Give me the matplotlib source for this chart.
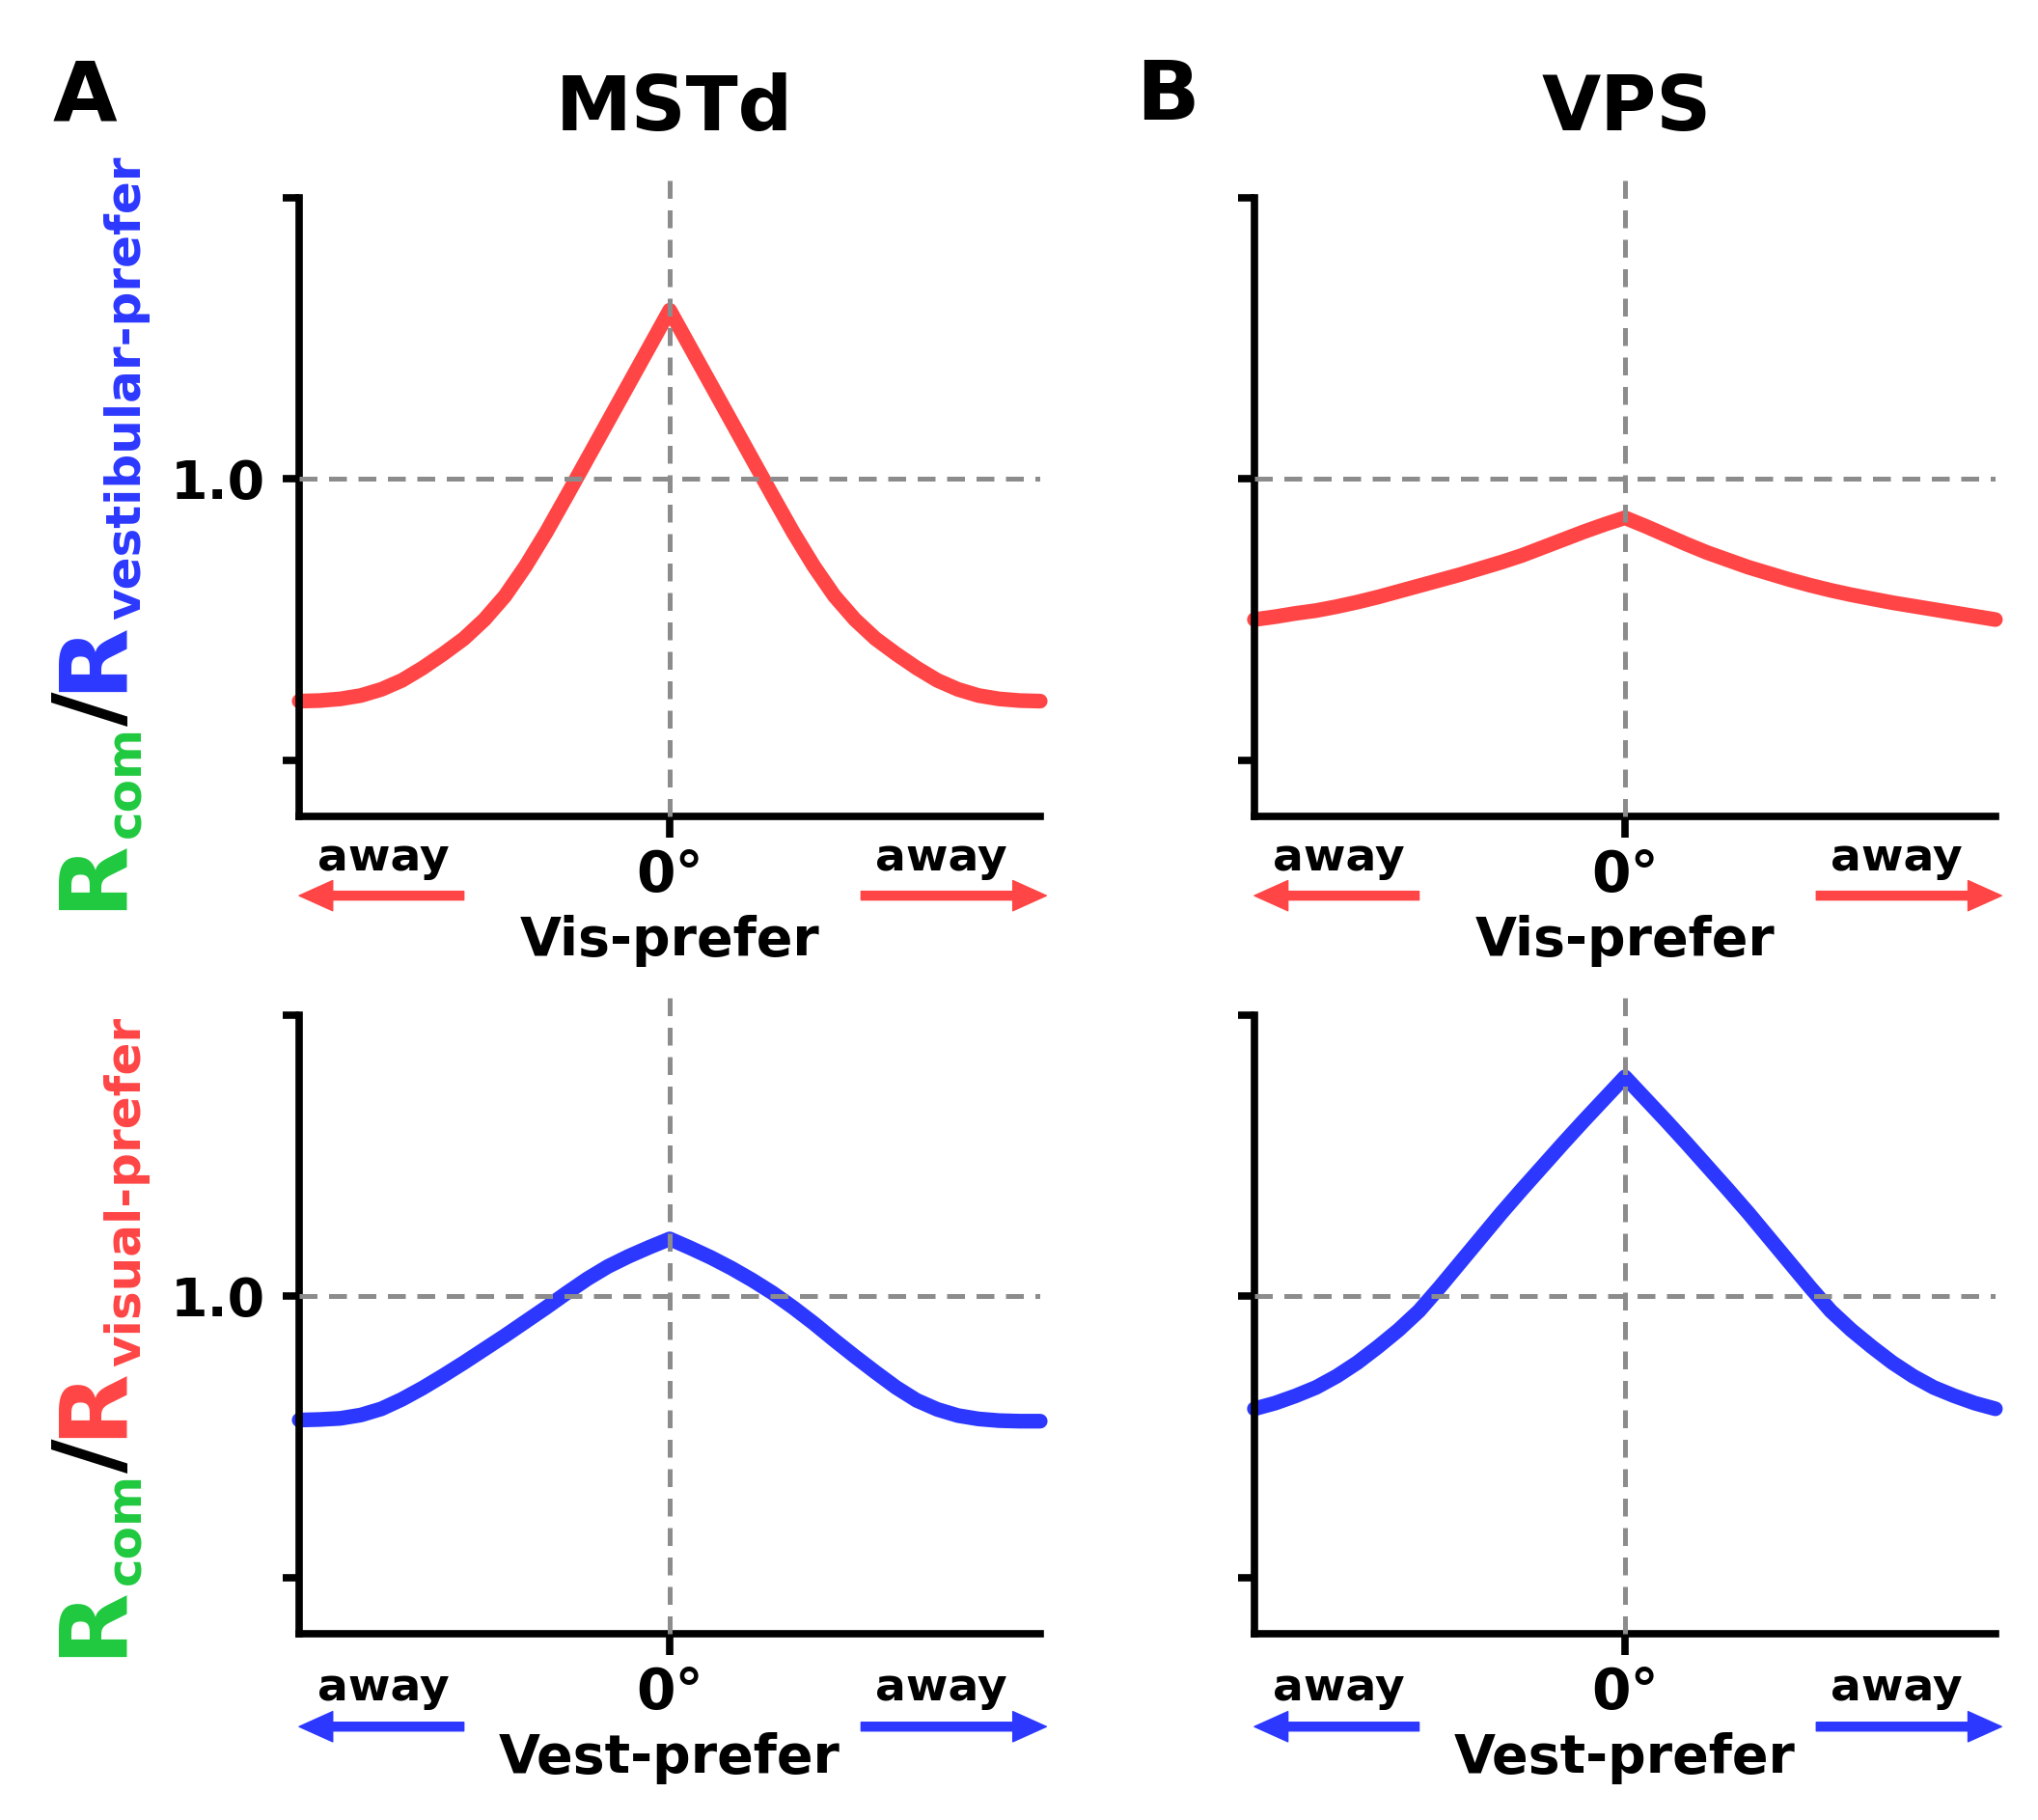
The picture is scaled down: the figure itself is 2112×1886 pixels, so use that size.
import matplotlib
matplotlib.use('Agg')
import matplotlib.pyplot as plt

# angle from preferred direction (deg), 10 deg steps from -180 to 180
deg = [-180, -170, -160, -150, -140, -130, -120, -110, -100, -90, -80, -70, -60, -50, -40, -30, -20, -10, 0,
       10, 20, 30, 40, 50, 60, 70, 80, 90, 100, 110, 120, 130, 140, 150, 160, 170, 180]

# Rcom / Rvestibular-prefer (vis-prefer axis)
mstd_vis = [0.605, 0.606, 0.609, 0.615, 0.626, 0.642, 0.664, 0.689, 0.716, 0.75, 0.792, 0.845, 0.905,
            0.97, 1.036, 1.102, 1.168, 1.234, 1.30,
            1.234, 1.168, 1.102, 1.036, 0.97, 0.905, 0.845, 0.792, 0.75, 0.716, 0.689, 0.664, 0.642,
            0.626, 0.615, 0.609, 0.606, 0.605]
vps_vis = [0.75, 0.755, 0.761, 0.766, 0.773, 0.781, 0.79, 0.80, 0.81, 0.82, 0.83, 0.841, 0.852,
           0.864, 0.878, 0.892, 0.906, 0.919, 0.931,
           0.916, 0.90, 0.884, 0.869, 0.856, 0.843, 0.832, 0.821, 0.811, 0.802, 0.794, 0.787, 0.78,
           0.774, 0.768, 0.762, 0.756, 0.75]

# Rcom / Rvisual-prefer (vest-prefer axis)
mstd_vest = [0.78, 0.781, 0.783, 0.789, 0.80, 0.817, 0.837, 0.859, 0.882, 0.906, 0.93, 0.955, 0.98,
             1.006, 1.031, 1.053, 1.071, 1.087, 1.102,
             1.086, 1.069, 1.05, 1.029, 1.006, 0.98, 0.952, 0.922, 0.893, 0.865, 0.838, 0.815, 0.799,
             0.788, 0.782, 0.779, 0.778, 0.778]
vps_vest = [0.80, 0.81, 0.823, 0.838, 0.858, 0.882, 0.91, 0.94, 0.974, 1.016, 1.06, 1.104, 1.148,
            1.19, 1.231, 1.272, 1.312, 1.351, 1.39,
            1.351, 1.312, 1.272, 1.231, 1.19, 1.148, 1.104, 1.06, 1.016, 0.974, 0.94, 0.91, 0.882,
            0.858, 0.838, 0.823, 0.81, 0.80]

y_ticks = [0.5, 1.0, 1.5]
y_ticklabels = ['', '1.0', '']

RED = '#FF4545'
BLUE = '#2C38FF'
GREEN = '#1FC93F'
GRAY = '#8C8C8C'

W, H = 2112, 1886
fig = plt.figure(figsize=(W / 100, H / 100), dpi=100)

col_left = [0.1468, 0.6155]
row_bottom = [0.5514, 0.1023]
ax_w, ax_h = 0.3636, 0.34

panels = [
    (0, 0, mstd_vis, RED, 'Vis-prefer', True),
    (1, 0, vps_vis, RED, 'Vis-prefer', False),
    (0, 1, mstd_vest, BLUE, 'Vest-prefer', True),
    (1, 1, vps_vest, BLUE, 'Vest-prefer', False),
]

# text offsets below the axis (axes fraction), per row
away_y = [-0.087, -0.107]
zero_y = [-0.122, -0.122]
arrow_y = [-0.128, -0.150]
label_y = [-0.225, -0.225]

for col, row, vals, color, xlab, show_lab in panels:
    ax = fig.add_axes([col_left[col], row_bottom[row], ax_w, ax_h])
    ax.plot(deg, vals, color=color, lw=11, solid_capstyle='round', solid_joinstyle='round',
            zorder=2, clip_on=False)
    ax.axhline(1.0, color=GRAY, lw=3.6, dashes=(3.7, 2.4), zorder=3)
    ax.axvline(0, ymin=0, ymax=1.03, color=GRAY, lw=3.6, dashes=(3.7, 2.4), zorder=3, clip_on=False)
    ax.set_xlim(-180, 180)
    ax.set_ylim(0.4, 1.5)
    for s in ['top', 'right']:
        ax.spines[s].set_visible(False)
    for s in ['left', 'bottom']:
        ax.spines[s].set_linewidth(5.5)
        ax.spines[s].set_capstyle('projecting')
    ax.set_xticks([0])
    ax.set_xticklabels([''])
    ax.tick_params(axis='x', direction='out', length=16, width=5.5)
    ax.set_yticks(y_ticks)
    ax.set_yticklabels(y_ticklabels if show_lab else ['', '', ''])
    ax.tick_params(axis='y', direction='out', length=12, width=5.5, pad=13, labelsize=40)
    for lab in ax.get_yticklabels():
        lab.set_fontweight('bold')

    tr = ax.get_xaxis_transform()
    ax.text(-139, away_y[row], 'away', transform=tr, ha='center', va='baseline',
            fontsize=34, fontweight='bold')
    ax.text(132, away_y[row], 'away', transform=tr, ha='center', va='baseline',
            fontsize=34, fontweight='bold')
    ax.text(0, zero_y[row], '0°', transform=tr, ha='center', va='baseline',
            fontsize=42, fontweight='bold')
    ax.text(0, label_y[row], xlab, transform=tr, ha='center', va='baseline',
            fontsize=40, fontweight='bold')
    arrow = dict(arrowstyle='simple,head_length=0.5,head_width=0.45,tail_width=0.13',
                 color=color, mutation_scale=50, shrinkA=0, shrinkB=0)
    ax.annotate('', xy=(-180, arrow_y[row]), xytext=(-100, arrow_y[row]),
                xycoords=tr, textcoords=tr, arrowprops=arrow, annotation_clip=False)
    ax.annotate('', xy=(183, arrow_y[row]), xytext=(93, arrow_y[row]),
                xycoords=tr, textcoords=tr, arrowprops=arrow, annotation_clip=False)

# panel letters and titles
fig.text(0.0415, 0.934, 'A', ha='center', va='baseline', fontsize=62, fontweight='bold')
fig.text(0.573, 0.934, 'B', ha='center', va='baseline', fontsize=62, fontweight='bold')
fig.text(0.331, 0.9284, 'MSTd', ha='center', va='baseline', fontsize=57, fontweight='bold')
fig.text(0.798, 0.9284, 'VPS', ha='center', va='baseline', fontsize=57, fontweight='bold')


# multi-coloured vertical y labels, built piece by piece
def stacked_label(x_px, y_px, pieces):
    renderer = fig.canvas.get_renderer()
    y = y_px
    for txt, color, size, shift in pieces:
        t = fig.text((x_px + shift) / W, 1 - y / H, txt, rotation=90, rotation_mode='anchor',
                     ha='left', va='baseline', color=color, fontsize=size, fontweight='bold')
        ext = t.get_window_extent(renderer)
        y -= ext.height


stacked_label(124, 943, [('R', GREEN, 70, 0), ('com', GREEN, 36, 21), ('/', 'black', 70, 0),
                         ('R', BLUE, 70, 0), ('vestibular-prefer', BLUE, 36, 21)])
stacked_label(124, 1717, [('R', GREEN, 70, 0), ('com', GREEN, 36, 21), ('/', 'black', 70, 0),
                          ('R', RED, 70, 0), ('visual-prefer', RED, 36, 21)])

fig.savefig('out.png', dpi=100, facecolor='white')
